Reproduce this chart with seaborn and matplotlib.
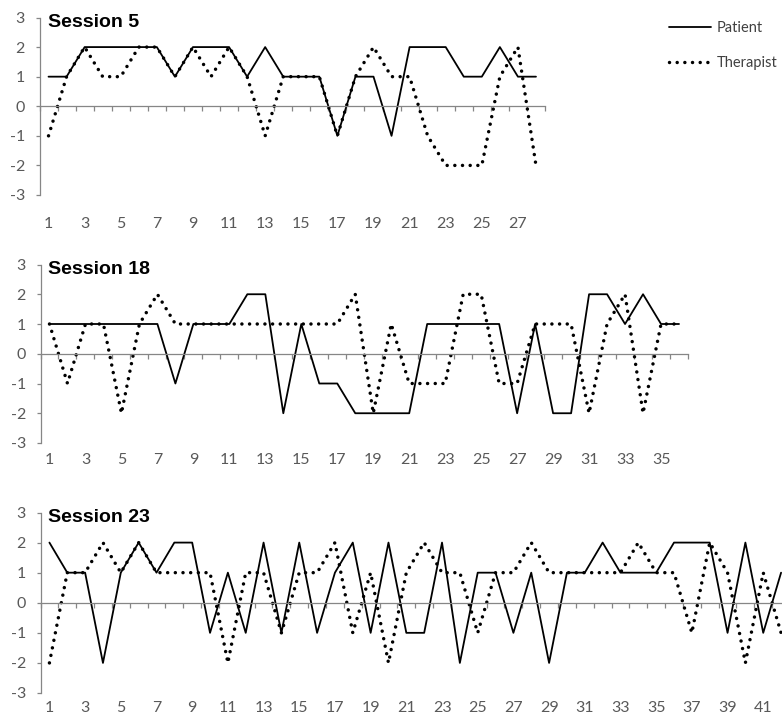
import numpy as np
import pandas as pd
import matplotlib
matplotlib.use("Agg")
import matplotlib.pyplot as plt
import seaborn as sns
from matplotlib.lines import Line2D

# Turn-by-turn ratings for each session (-3 .. 3)
session_titles = ["Session 5", "Session 18", "Session 23"]

s5_patient = [1, 1, 2, 2, 2, 2, 2, 1, 2, 2, 2, 1, 2, 1, 1, 1, -1, 1, 1, -1,
              2, 2, 2, 1, 1, 2, 1, 1]
s5_therapist = [-1, 1, 2, 1, 1, 2, 2, 1, 2, 1, 2, 1, -1, 1, 1, 1, -1, 1, 2, 1,
                1, -1, -2, -2, -2, 1, 2, -2]

s18_patient = [1, 1, 1, 1, 1, 1, 1, -1, 1, 1, 1, 2, 2, -2, 1, -1, -1, -2, -2, -2,
               -2, 1, 1, 1, 1, 1, -2, 1, -2, -2, 2, 2, 1, 2, 1, 1]
s18_therapist = [1, -1, 1, 1, -2, 1, 2, 1, 1, 1, 1, 1, 1, 1, 1, 1, 1, 2, -2, 1,
                 -1, -1, -1, 2, 2, -1, -1, 1, 1, 1, -2, 1, 2, -2, 1, 1]

s23_patient = [2, 1, 1, -2, 1, 2, 1, 2, 2, -1, 1, -1, 2, -1, 2, -1, 1, 2, -1, 2,
               -1, -1, 2, -2, 1, 1, -1, 1, -2, 1, 1, 2, 1, 1, 1, 2, 2, 2, -1, 2,
               -1, 1]
s23_therapist = [-2, 1, 1, 2, 1, 2, 1, 1, 1, 1, -2, 1, 1, -1, 1, 1, 2, -1, 1, -2,
                 1, 2, 1, 1, -1, 1, 1, 2, 1, 1, 1, 1, 1, 2, 1, 1, -1, 2, 1, -2,
                 1, -1]

patients = [s5_patient, s18_patient, s23_patient]
therapists = [s5_therapist, s18_therapist, s23_therapist]
y_ticks = [-3, -2, -1, 0, 1, 2, 3]

sns.set_theme(style="white")
plt.rcParams["font.family"] = ["Lato", "DejaVu Sans"]

W, H = 782, 718
fig = plt.figure(figsize=(W / 100, H / 100), dpi=100)

GRAY = "#868686"
LABEL = "#595959"

# panel boxes in pixels: left, right, top, bottom, label pad (pt)
boxes = [(39.5, 545, 17.5, 195, 15.5),
         (40.5, 688, 264.5, 443, 7.0),
         (40.5, 790, 512.5, 693, 5.5)]

for title, pat, ther, (l, r, t, b, lpad) in zip(session_titles, patients, therapists, boxes):
    ax = fig.add_axes([l / W, 1 - b / H, (r - l) / W, (b - t) / H])
    n = len(pat)
    turns = np.arange(1, n + 1)
    df = pd.DataFrame({"turn": turns, "Patient": pat, "Therapist": ther})

    sns.lineplot(data=df, x="turn", y="Therapist", ax=ax, color="black",
                 linewidth=2.5, linestyle=(0, (0.01, 2.2)),
                 dash_capstyle="round", errorbar=None, sort=False)
    sns.lineplot(data=df, x="turn", y="Patient", ax=ax, color="black",
                 linewidth=1.3, errorbar=None, sort=False)

    ax.set_xlim(0.5, n + 0.5)
    ax.set_ylim(-3, 3)
    ax.set_xlabel("")
    ax.set_ylabel("")
    ax.set_facecolor("white")

    for side in ("top", "right"):
        ax.spines[side].set_visible(False)
    ax.spines["left"].set_color(GRAY)
    ax.spines["left"].set_linewidth(0.9)
    ax.spines["bottom"].set_position(("data", 0))
    ax.spines["bottom"].set_color(GRAY)
    ax.spines["bottom"].set_linewidth(0.9)

    ax.set_yticks(y_ticks)
    ax.set_yticklabels([str(v) for v in y_ticks])
    ax.tick_params(axis="y", left=True, direction="out", length=3, width=0.9,
                   color=GRAY, labelsize=11.5, labelcolor=LABEL, pad=7.5)

    # category boundary ticks on the zero line
    ax.set_xticks(np.arange(0.5, n + 1, 1))
    ax.tick_params(axis="x", bottom=True, direction="out", length=3.5, width=0.9,
                   color=GRAY, labelbottom=False)

    # category labels along the bottom of the panel
    sec = ax.secondary_xaxis(0.0)
    sec.set_xticks(np.arange(1, n + 1, 2))
    sec.set_xticklabels([str(v) for v in range(1, n + 1, 2)])
    sec.tick_params(length=0, labelsize=11.5, labelcolor=LABEL, pad=lpad)
    sec.spines["bottom"].set_visible(False)

    ax.annotate(title, xy=(0, 1), xycoords="axes fraction",
                xytext=(8, -5), textcoords="offset pixels",
                ha="left", va="center", fontsize=14, fontweight="bold",
                family=["Liberation Sans", "DejaVu Sans"], color="black")

handles = [Line2D([], [], color="black", linewidth=1.3),
           Line2D([], [], color="black", linewidth=2.5,
                  linestyle=(0, (0.01, 2.2)), dash_capstyle="round")]
fig.legend(handles, ["Patient", "Therapist"], loc="upper left",
           bbox_to_anchor=(656 / W, 1 - 8 / H), frameon=False,
           fontsize=10.5, handlelength=2.9, handletextpad=0.35,
           labelspacing=1.45, labelcolor="#404040")

fig.savefig("out.png", dpi=100, facecolor="white")
